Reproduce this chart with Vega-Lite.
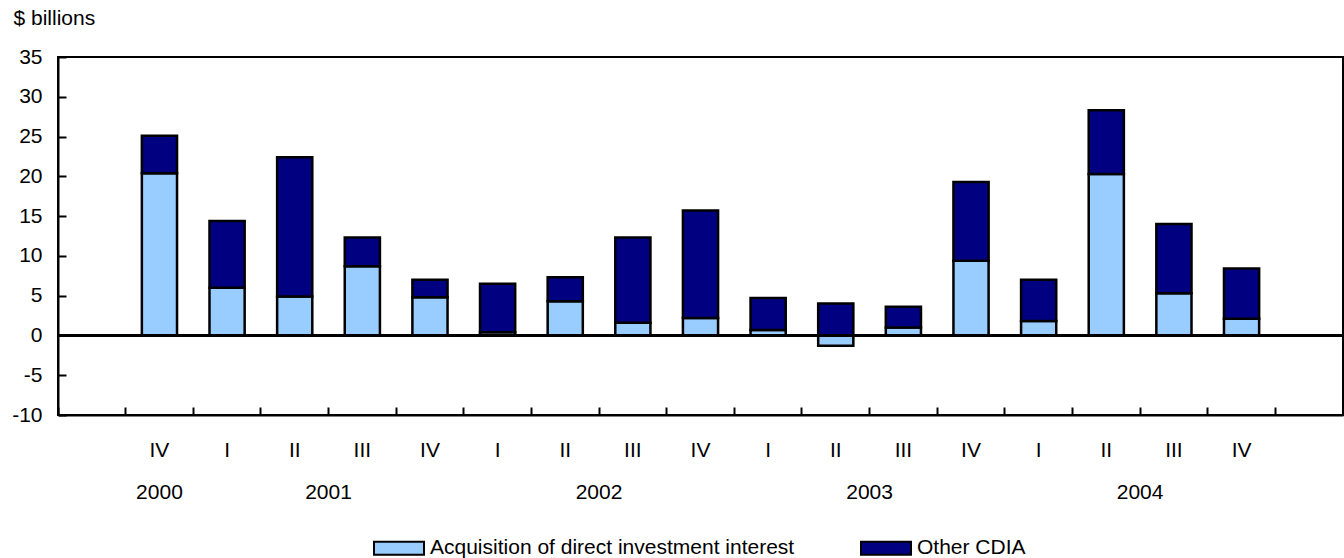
{
  "$schema": "https://vega.github.io/schema/vega-lite/v6.json",
  "autosize": "none",
  "width": 1285,
  "height": 358,
  "padding": {"left": 58, "top": 57, "right": 1, "bottom": 143},
  "background": "white",
  "config": {
    "font": "Liberation Sans",
    "view": {"stroke": "black", "strokeWidth": 2},
    "axis": {"labelColor": "black", "titleColor": "black", "domainColor": "black", "tickColor": "black", "labelFontSize": 21, "titleFontSize": 21, "titleFontWeight": "normal", "grid": false}
  },
  "datasets": {
    "bars": [
      {"period": "2000 IV", "series": "Acquisition of direct investment interest", "value": 20.4},
      {"period": "2000 IV", "series": "Other CDIA", "value": 4.7},
      {"period": "2001 I", "series": "Acquisition of direct investment interest", "value": 6.0},
      {"period": "2001 I", "series": "Other CDIA", "value": 8.4},
      {"period": "2001 II", "series": "Acquisition of direct investment interest", "value": 4.9},
      {"period": "2001 II", "series": "Other CDIA", "value": 17.5},
      {"period": "2001 III", "series": "Acquisition of direct investment interest", "value": 8.7},
      {"period": "2001 III", "series": "Other CDIA", "value": 3.6},
      {"period": "2001 IV", "series": "Acquisition of direct investment interest", "value": 4.8},
      {"period": "2001 IV", "series": "Other CDIA", "value": 2.2},
      {"period": "2002 I", "series": "Acquisition of direct investment interest", "value": 0.4},
      {"period": "2002 I", "series": "Other CDIA", "value": 6.1},
      {"period": "2002 II", "series": "Acquisition of direct investment interest", "value": 4.3},
      {"period": "2002 II", "series": "Other CDIA", "value": 3.0},
      {"period": "2002 III", "series": "Acquisition of direct investment interest", "value": 1.6},
      {"period": "2002 III", "series": "Other CDIA", "value": 10.7},
      {"period": "2002 IV", "series": "Acquisition of direct investment interest", "value": 2.2},
      {"period": "2002 IV", "series": "Other CDIA", "value": 13.5},
      {"period": "2003 I", "series": "Acquisition of direct investment interest", "value": 0.7},
      {"period": "2003 I", "series": "Other CDIA", "value": 4.0},
      {"period": "2003 II", "series": "Acquisition of direct investment interest", "value": -1.3},
      {"period": "2003 II", "series": "Other CDIA", "value": 4.0},
      {"period": "2003 III", "series": "Acquisition of direct investment interest", "value": 1.0},
      {"period": "2003 III", "series": "Other CDIA", "value": 2.6},
      {"period": "2003 IV", "series": "Acquisition of direct investment interest", "value": 9.4},
      {"period": "2003 IV", "series": "Other CDIA", "value": 9.9},
      {"period": "2004 I", "series": "Acquisition of direct investment interest", "value": 1.8},
      {"period": "2004 I", "series": "Other CDIA", "value": 5.2},
      {"period": "2004 II", "series": "Acquisition of direct investment interest", "value": 20.3},
      {"period": "2004 II", "series": "Other CDIA", "value": 8.0},
      {"period": "2004 III", "series": "Acquisition of direct investment interest", "value": 5.3},
      {"period": "2004 III", "series": "Other CDIA", "value": 8.7},
      {"period": "2004 IV", "series": "Acquisition of direct investment interest", "value": 2.1},
      {"period": "2004 IV", "series": "Other CDIA", "value": 6.3}
    ],
    "yearCenter": [
      {"period": "2000 IV", "year": "2000"}
    ],
    "yearEdge": [
      {"period": "2001 III", "year": "2001"},
      {"period": "2002 III", "year": "2002"},
      {"period": "2003 III", "year": "2003"},
      {"period": "2004 III", "year": "2004"}
    ]
  },
  "layer": [
    {
      "data": {"name": "bars"},
      "mark": {"type": "bar", "width": {"band": 0.52}, "stroke": "black", "strokeWidth": 2.5, "opacity": 1},
      "encoding": {
        "x": {
          "field": "period", "type": "nominal", "sort": null,
          "scale": {
            "domain": ["pre", "2000 IV", "2001 I", "2001 II", "2001 III", "2001 IV", "2002 I", "2002 II", "2002 III", "2002 IV", "2003 I", "2003 II", "2003 III", "2003 IV", "2004 I", "2004 II", "2004 III", "2004 IV", "post"],
            "paddingInner": 0, "paddingOuter": 0
          },
          "axis": {
            "title": null, "labelAngle": 0, "bandPosition": 0, "tickSize": -8, "tickWidth": 2,
            "domainWidth": 2, "labelPadding": 43, "labelBaseline": "middle",
            "labelExpr": "indexof(datum.value, ' ') > 0 ? split(datum.value, ' ')[1] : ''"
          }
        },
        "y": {
          "field": "value", "type": "quantitative",
          "scale": {"domain": [-10, 35], "nice": false},
          "axis": {
            "values": [-10, -5, 0, 5, 10, 15, 20, 25, 30, 35],
            "tickCount": 10,
            "labelOverlap": false, "labelFlush": false,
            "tickSize": -8, "tickWidth": 2, "domainWidth": 2, "labelPadding": 24,
            "labelExpr": "'' + datum.value",
            "title": "$ billions", "titleAngle": 0, "titleX": -45, "titleY": -39,
            "titleAlign": "left", "titleBaseline": "middle"
          }
        },
        "order": {"field": "series", "sort": "ascending"},
        "color": {
          "field": "series", "type": "nominal",
          "scale": {"domain": ["Acquisition of direct investment interest", "Other CDIA"], "range": ["#99CCFF", "#000080"]},
          "legend": {
            "title": null, "orient": "none", "direction": "horizontal", "legendX": 315, "legendY": 465,
            "symbolType": "M-1,-0.26H1V0.26H-1Z", "symbolSize": 2500, "symbolStrokeColor": "black", "symbolStrokeWidth": 2,
            "symbolOpacity": 1, "labelFontSize": 21, "labelColor": "black", "labelLimit": 1000, "labelOffset": 5,
            "columnPadding": 62
          }
        }
      }
    },
    {
      "data": {"name": "bars"},
      "mark": {"type": "rule", "color": "black", "strokeWidth": 2},
      "encoding": {"y": {"datum": 0}}
    },
    {
      "data": {"name": "yearCenter"},
      "mark": {"type": "text", "fontSize": 21, "color": "black", "baseline": "middle", "align": "center"},
      "encoding": {
        "x": {"field": "period", "type": "nominal", "bandPosition": 0.5},
        "y": {"datum": -19.8},
        "text": {"field": "year"}
      }
    },
    {
      "data": {"name": "yearEdge"},
      "mark": {"type": "text", "fontSize": 21, "color": "black", "baseline": "middle", "align": "center"},
      "encoding": {
        "x": {"field": "period", "type": "nominal", "bandPosition": 0},
        "y": {"datum": -19.8},
        "text": {"field": "year"}
      }
    }
  ]
}
